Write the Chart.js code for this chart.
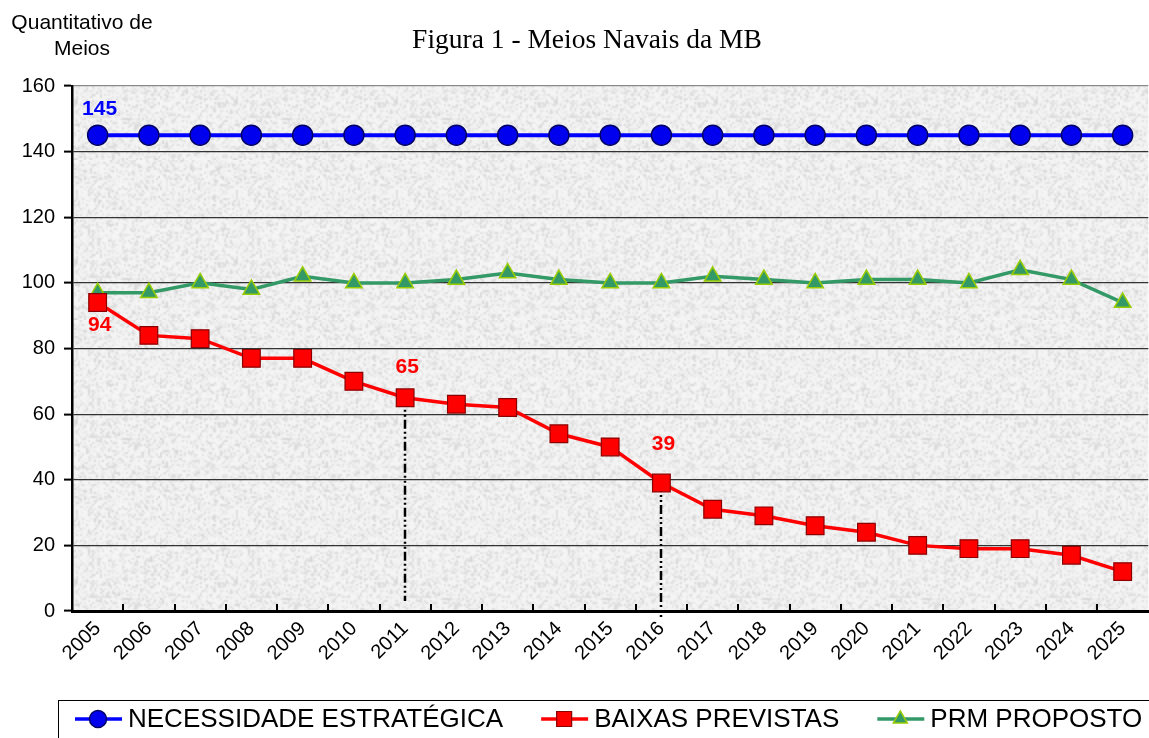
<!DOCTYPE html>
<html lang="pt-BR">
<head>
<meta charset="utf-8">
<title>Figura 1 - Meios Navais da MB</title>
<script src="https://cdn.jsdelivr.net/npm/chart.js@4.4.1/dist/chart.umd.min.js"></script>
<style>
  html, body { margin: 0; padding: 0; background: #fff; overflow: hidden; }
  #wrap { width: 1149px; height: 738px; overflow: hidden; }
</style>
</head>
<body>
<!-- the canvas runs a little past the right edge, like the plot in the original -->
<div id="wrap"><canvas id="meiosChart" width="1162" height="738"></canvas></div>
<script>
// Data
const years = ['2005', '2006', '2007', '2008', '2009', '2010', '2011', '2012', '2013', '2014', '2015',
               '2016', '2017', '2018', '2019', '2020', '2021', '2022', '2023', '2024', '2025'];
const necessidade = [145, 145, 145, 145, 145, 145, 145, 145, 145, 145, 145,
                     145, 145, 145, 145, 145, 145, 145, 145, 145, 145];
const baixas = [94, 84, 83, 77, 77, 70, 65, 63, 62, 54, 50,
                39, 31, 29, 26, 24, 20, 19, 19, 17, 12];
const prm = [97, 97, 100, 98, 102, 100, 100, 101, 103, 101, 100,
             100, 102, 101, 100, 101, 101, 100, 104, 101, 94];
const yTicks = [0, 20, 40, 60, 80, 100, 120, 140, 160];
const seriesNames = ['NECESSIDADE ESTRATÉGICA', 'BAIXAS PREVISTAS', 'PRM PROPOSTO'];
const chartTitle = 'Figura 1 - Meios Navais da MB';
const yCaption = ['Quantitativo de', 'Meios'];

// values called out on the chart, and years marked with a drop line
const callouts = [
  { series: 0, year: '2005' },
  { series: 1, year: '2005' },
  { series: 1, year: '2011' },
  { series: 1, year: '2016' }
];
const markedYears = ['2011', '2016'];

const SANS = '"Liberation Sans", Arial, sans-serif';
const SERIF = '"Liberation Serif", "Times New Roman", serif';

// light grey speckled paper, built from a hash so it is the same every time
function makeTexture(ctx) {
  const n = 80;
  const src = document.createElement('canvas');
  src.width = src.height = n;
  const g = src.getContext('2d');
  const img = g.createImageData(n, n);
  for (let i = 0; i < n * n; i++) {
    let h = Math.imul(i + 31, 2654435761) >>> 0;
    h ^= h >>> 15;
    h = Math.imul(h, 2246822519) >>> 0;
    h ^= h >>> 13;
    const t = (h & 1023) / 1023;
    const v = 246 - Math.round(t * t * t * 34);
    img.data[i * 4] = v;
    img.data[i * 4 + 1] = v;
    img.data[i * 4 + 2] = v;
    img.data[i * 4 + 3] = 255;
  }
  g.putImageData(img, 0, 0);
  // scale up with smoothing so the grain turns into soft speckles
  const big = document.createElement('canvas');
  big.width = big.height = n * 2;
  const bg = big.getContext('2d');
  bg.imageSmoothingEnabled = true;
  bg.drawImage(src, 0, 0, n * 2, n * 2);
  return ctx.createPattern(big, 'repeat');
}

const paperPlugin = {
  id: 'paper',
  beforeDraw(chart) {
    const { ctx, chartArea: a } = chart;
    if (!this.pattern) this.pattern = makeTexture(ctx);
    ctx.save();
    ctx.fillStyle = this.pattern;
    ctx.fillRect(a.left, a.top, a.right - a.left, a.bottom - a.top);
    ctx.restore();
  }
};

// drop lines and inner x ticks, under the markers
const dropLinePlugin = {
  id: 'dropLines',
  beforeDatasetsDraw(chart) {
    const { ctx, chartArea: a, scales: { x, y } } = chart;
    ctx.save();
    // short inside ticks at the category boundaries
    ctx.strokeStyle = '#000';
    ctx.lineWidth = 2;
    for (let i = 1; i < years.length; i++) {
      const px = Math.round((x.getPixelForValue(i - 1) + x.getPixelForValue(i)) / 2);
      ctx.beginPath();
      ctx.moveTo(px, a.bottom);
      ctx.lineTo(px, a.bottom - 7);
      ctx.stroke();
    }
    // dash-dot-dot lines from the marked points down to the axis
    const ends = [-10, 6];
    ctx.lineWidth = 2.5;
    ctx.setLineDash([9, 3, 2, 3, 2, 3]);
    markedYears.forEach((yr, k) => {
      const i = years.indexOf(yr);
      const px = Math.round(x.getPixelForValue(i));
      ctx.beginPath();
      ctx.moveTo(px, y.getPixelForValue(baixas[i]));
      ctx.lineTo(px, a.bottom + ends[k]);
      ctx.stroke();
    });
    ctx.restore();
  }
};

const textPlugin = {
  id: 'texts',
  afterDraw(chart) {
    const { ctx, scales: { x, y } } = chart;
    ctx.save();

    // title and y caption
    ctx.fillStyle = '#000';
    ctx.textAlign = 'center';
    ctx.textBaseline = 'alphabetic';
    ctx.font = '27.5px ' + SERIF;
    ctx.fillText(chartTitle, 587, 48);
    ctx.font = '21px ' + SANS;
    ctx.fillText(yCaption[0], 82, 29);
    ctx.fillText(yCaption[1], 82, 55);

    // value callouts
    const dy = [-26, 23, -31, -39];
    ctx.font = 'bold 21px ' + SANS;
    ctx.textBaseline = 'middle';
    callouts.forEach((c, k) => {
      const ds = chart.data.datasets[c.series];
      const i = years.indexOf(c.year);
      const v = ds.data[i];
      ctx.fillStyle = ds.borderColor;
      ctx.fillText(String(v), x.getPixelForValue(i) + 2, y.getPixelForValue(v) + dy[k]);
    });

    // legend box along the bottom
    const top = 700, mid = 719;
    ctx.strokeStyle = '#000';
    ctx.lineWidth = 1;
    ctx.strokeRect(58.5, top + 0.5, 1200, 60);
    ctx.font = '26px ' + SANS;
    ctx.textAlign = 'left';
    ctx.textBaseline = 'middle';
    let lx = 75;
    chart.data.datasets.forEach((ds) => {
      ctx.strokeStyle = ds.borderColor;
      ctx.lineWidth = 3.5;
      ctx.beginPath();
      ctx.moveTo(lx, mid);
      ctx.lineTo(lx + 47, mid);
      ctx.stroke();
      ctx.fillStyle = ds.pointBackgroundColor;
      ctx.strokeStyle = ds.pointBorderColor;
      ctx.lineWidth = ds.pointBorderWidth;
      Chart.helpers.drawPoint(ctx, {
        pointStyle: ds.pointStyle,
        radius: ds.pointRadius * 0.85,
        rotation: 0,
        borderWidth: ds.pointBorderWidth
      }, lx + 23, mid);
      ctx.fillStyle = '#000';
      ctx.fillText(ds.label, lx + 53, mid + 1);
      lx += 53 + ctx.measureText(ds.label).width + 38;
    });

    ctx.restore();
  }
};

const ctx = document.getElementById('meiosChart').getContext('2d');
new Chart(ctx, {
  type: 'line',
  data: {
    labels: years,
    datasets: [
      {
        label: seriesNames[0],
        data: necessidade,
        borderColor: '#0000ff',
        borderWidth: 4,
        pointStyle: 'circle',
        pointRadius: 10,
        pointBackgroundColor: '#0000ee',
        pointBorderColor: '#000066',
        pointBorderWidth: 1.5
      },
      {
        label: seriesNames[1],
        data: baixas,
        borderColor: '#ff0000',
        borderWidth: 3.5,
        pointStyle: 'rect',
        pointRadius: 12.5,
        pointBackgroundColor: '#ff0000',
        pointBorderColor: '#8b0000',
        pointBorderWidth: 1.2
      },
      {
        label: seriesNames[2],
        data: prm,
        borderColor: '#339966',
        borderWidth: 3.5,
        pointStyle: 'triangle',
        pointRadius: 9.5,
        pointBackgroundColor: '#339966',
        pointBorderColor: '#99cc00',
        pointBorderWidth: 1.5
      }
    ]
  },
  options: {
    responsive: false,
    animation: false,
    events: [],
    layout: { padding: { top: 86, right: 0, bottom: 70, left: 0 } },
    plugins: {
      legend: { display: false },
      title: { display: false },
      tooltip: { enabled: false }
    },
    scales: {
      x: {
        offset: true,
        grid: { display: true, drawOnChartArea: false, drawTicks: false, offset: true },
        border: { color: '#000', width: 3 },
        ticks: {
          color: '#000',
          font: { family: SANS, size: 20 },
          minRotation: 45,
          maxRotation: 45,
          padding: 6,
          autoSkip: false
        },
        afterFit(scale) { scale.height = 57; }
      },
      y: {
        min: 0,
        max: 160,
        afterBuildTicks(scale) { scale.ticks = yTicks.map(v => ({ value: v })); },
        grid: {
          color: (c) => c.tick && c.tick.value === 160 ? '#8a8a8a' : '#333333',
          lineWidth: 1.2,
          tickColor: '#000',
          tickLength: 8,
          tickWidth: 2
        },
        border: { color: '#000', width: 2.5 },
        ticks: {
          color: '#000',
          font: { family: SANS, size: 20 },
          padding: 9
        },
        afterFit(scale) { scale.width = 72; }
      }
    }
  },
  plugins: [paperPlugin, dropLinePlugin, textPlugin]
});
</script>
</body>
</html>
